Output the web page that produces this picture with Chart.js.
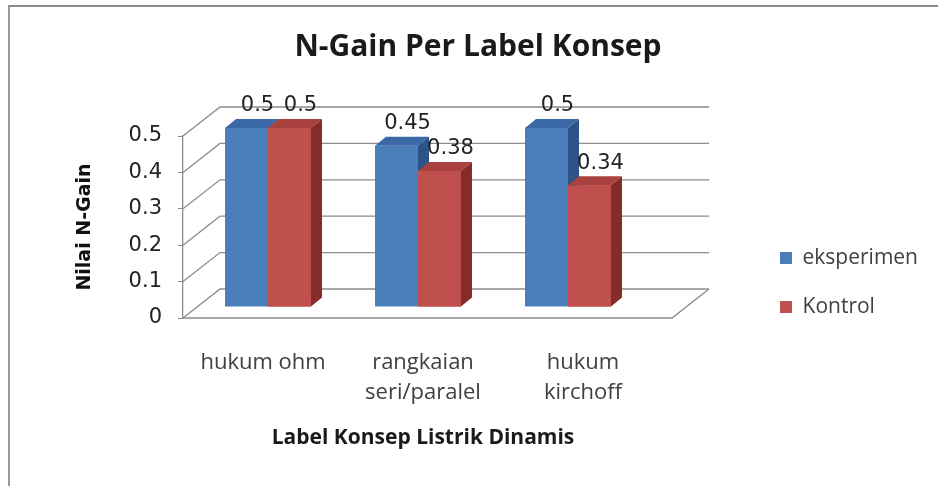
<!DOCTYPE html>
<html>
<head>
<meta charset="utf-8">
<title>N-Gain Per Label Konsep</title>
<script src="https://cdn.jsdelivr.net/npm/chart.js@4.4.1/dist/chart.umd.min.js"></script>
<style>
  html, body { margin: 0; padding: 0; background: #fff; }
  #wrap { position: relative; width: 938px; height: 486px; overflow: hidden; }
  #frame { position: absolute; left: 8px; top: 5px; right: -4px; bottom: -4px;
           border-top: 2px solid #8a8a8a; border-left: 2px solid #9a9a9a; pointer-events: none; }
  canvas { position: absolute; left: 0; top: 0; }
</style>
</head>
<body>
<div id="wrap">
  <canvas id="chart" width="938" height="486"></canvas>
  <div id="frame"></div>
</div>
<script>
// --- Data ---
const categories = ['hukum ohm', ['rangkaian', 'seri/paralel'], ['hukum', 'kirchoff']];
const seriesNames = ['eksperimen', 'Kontrol'];
const eksperimenValues = [0.5, 0.45, 0.5];
const kontrolValues = [0.5, 0.38, 0.34];
const yMin = 0, yMax = 0.5, yStep = 0.1;

// --- Styles ---
const frontColors = ['#4a7ebb', '#c0504d'];
const topColors = ['#3b68a6', '#a9423f'];
const sideColors = ['#2d5389', '#852b29'];
const gridColor = '#8c8c8c';
const numFont = 'DejaVu Sans';
const textFont = 'Open Sans';

// --- 3D look (screen px) ---
const WALL_DX = 37, WALL_DY = -29;   // depth of back wall
const FLOOR_EXTRA = 9;               // floor runs a bit past the last category
const BAR_DX = 11, BAR_DY = -9;      // depth of each bar
const LABEL_DY = -22;
const PLANE = { sx: 0.9375, sy: 0.984, ox: -5, oy: -11 }; // bars stand halfway back
const PLOT_RIGHT = 663;              // front-right corner of the plot
const PAD_LEFT = 28, PAD_RIGHT = 10;

function toPlane(ca, x, y) {
    const cx = (ca.left + ca.right) / 2;
    return {
        x: cx + PLANE.ox + (x - cx) * PLANE.sx,
        y: ca.bottom + PLANE.oy + (y - ca.bottom) * PLANE.sy
    };
}

function drawWalls(chart) {
    const { ctx, chartArea: ca, scales: { y } } = chart;
    const floorRight = ca.right + FLOOR_EXTRA;
    const backRight = floorRight + WALL_DX;
    ctx.save();
    ctx.strokeStyle = gridColor;
    ctx.lineWidth = 1.3;
    y.ticks.forEach(t => {
        const py = y.getPixelForValue(t.value);
        ctx.beginPath();
        ctx.moveTo(ca.left, py);
        ctx.lineTo(ca.left + WALL_DX, py + WALL_DY);
        ctx.lineTo(backRight, py + WALL_DY);
        ctx.stroke();
    });
    // floor front and right edge
    ctx.beginPath();
    ctx.moveTo(ca.left, ca.bottom);
    ctx.lineTo(floorRight, ca.bottom);
    ctx.lineTo(backRight, ca.bottom + WALL_DY);
    ctx.stroke();
    ctx.restore();
}

function drawFaces(chart, i) {
    const { ctx, chartArea: ca } = chart;
    const dpr = chart.currentDevicePixelRatio;
    ctx.save();
    ctx.setTransform(dpr, 0, 0, dpr, 0, 0);
    chart.getDatasetMeta(i).data.forEach(bar => {
        const { x, y, base, width } = bar.getProps(['x', 'y', 'base', 'width'], true);
        const tl = toPlane(ca, x - width / 2, y);
        const tr = toPlane(ca, x + width / 2, y);
        const br = toPlane(ca, x + width / 2, base);
        ctx.fillStyle = topColors[i];
        ctx.beginPath();
        ctx.moveTo(tl.x, tl.y);
        ctx.lineTo(tr.x, tr.y);
        ctx.lineTo(tr.x + BAR_DX, tr.y + BAR_DY);
        ctx.lineTo(tl.x + BAR_DX, tl.y + BAR_DY);
        ctx.closePath();
        ctx.fill();
        ctx.fillStyle = sideColors[i];
        ctx.beginPath();
        ctx.moveTo(tr.x, tr.y);
        ctx.lineTo(tr.x + BAR_DX, tr.y + BAR_DY);
        ctx.lineTo(br.x + BAR_DX, br.y + BAR_DY);
        ctx.lineTo(br.x, br.y);
        ctx.closePath();
        ctx.fill();
    });
    ctx.restore();
}

const bar3d = {
    id: 'bar3d',
    beforeDatasetsDraw(chart) {
        const { ctx, chartArea: ca } = chart;
        drawWalls(chart);
        const cx = (ca.left + ca.right) / 2;
        ctx.save();
        ctx.translate(cx + PLANE.ox, ca.bottom + PLANE.oy);
        ctx.scale(PLANE.sx, PLANE.sy);
        ctx.translate(-cx, -ca.bottom);
    },
    afterDatasetsDraw(chart) {
        const { ctx, chartArea: ca } = chart;
        // left series first; later series' fronts go over the earlier side faces
        chart.data.datasets.forEach((ds, i) => {
            if (i > 0) chart.getDatasetMeta(i).data.forEach(bar => bar.draw(ctx, ca));
            drawFaces(chart, i);
        });
        ctx.restore();
        // value labels
        ctx.save();
        ctx.font = `21px "${numFont}"`;
        ctx.fillStyle = '#222';
        ctx.textAlign = 'center';
        ctx.textBaseline = 'middle';
        chart.data.datasets.forEach((ds, i) => {
            chart.getDatasetMeta(i).data.forEach((bar, j) => {
                const p = toPlane(ca, bar.x, bar.y);
                ctx.fillText(String(ds.data[j]), p.x + BAR_DX, p.y + LABEL_DY);
            });
        });
        ctx.restore();
    }
};

new Chart(document.getElementById('chart'), {
    type: 'bar',
    data: {
        labels: categories,
        datasets: [
            { label: seriesNames[0], data: eksperimenValues, backgroundColor: frontColors[0] },
            { label: seriesNames[1], data: kontrolValues, backgroundColor: frontColors[1] }
        ]
    },
    options: {
        responsive: false,
        animation: false,
        layout: { padding: { left: PAD_LEFT, right: PAD_RIGHT, top: 0, bottom: 0 } },
        datasets: { bar: { barPercentage: 1, categoryPercentage: 0.573, borderWidth: 0 } },
        scales: {
            x: {
                grid: { display: false },
                border: { display: false },
                ticks: { color: '#404040', font: { family: textFont, size: 22, lineHeight: 1.36 }, padding: 22, maxRotation: 0, autoSkip: false },
                title: { display: true, text: 'Label Konsep Listrik Dinamis', color: '#1a1a1a',
                         font: { family: textFont, size: 21, weight: 'bold', lineHeight: 1.2 }, padding: { top: 0, bottom: 35 } },
                afterFit: s => { s.height = 168; }
            },
            y: {
                min: yMin, max: yMax,
                ticks: { stepSize: yStep, color: '#222', font: { family: numFont, size: 21 }, padding: 16 },
                grid: { drawOnChartArea: false, drawTicks: true, tickLength: 5, color: gridColor },
                border: { display: true, color: gridColor, width: 1.3 },
                title: { display: true, text: 'Nilai N-Gain', color: '#111',
                         font: { family: numFont, size: 19, weight: 'bold', lineHeight: 1.2 }, padding: { top: 46, bottom: 0 } },
                afterFit: s => { s.width = 183 - PAD_LEFT; }
            },
            // invisible spacer between the plot and the legend
            gap: {
                type: 'linear', position: 'right', display: false,
                afterFit: s => { s.width = s.chart.width - PAD_RIGHT - s.chart.legend.width - PLOT_RIGHT; }
            }
        },
        plugins: {
            title: { display: true, text: 'N-Gain Per Label Konsep', color: '#1a1a1a',
                     font: { family: textFont, size: 30, weight: 'bold', lineHeight: 1.2 }, padding: { top: 29, bottom: 71 } },
            legend: {
                position: 'right',
                labels: { boxWidth: 12, boxHeight: 12, padding: 28, color: '#404040', font: { family: textFont, size: 21 } },
                title: { display: true, text: '', font: { size: 10, lineHeight: 1.2 }, padding: { top: 67, bottom: 0 } }
            },
            tooltip: { enabled: false }
        }
    },
    plugins: [bar3d]
});
</script>
</body>
</html>
